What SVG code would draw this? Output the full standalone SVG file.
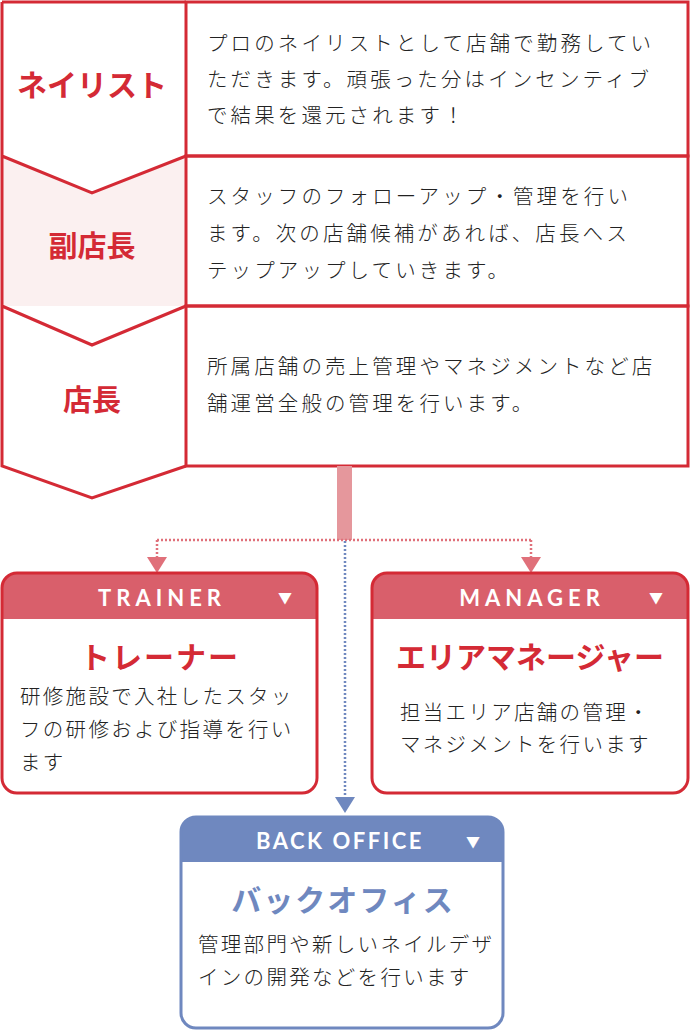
<svg xmlns="http://www.w3.org/2000/svg" width="690" height="1031" viewBox="0 0 690 1031">
<style>
.t{font-family:"Noto Sans CJK JP","Noto Sans",sans-serif}
.b{font-size:20.5px;fill:#222;font-weight:300;letter-spacing:2.3px}
.w{letter-spacing:3.1px}
.h{font-size:30px;font-weight:bold;fill:#d42a35;text-anchor:middle}
.hd{font-family:"Lato","Noto Sans",sans-serif;font-size:22px;font-weight:bold;fill:#fff;letter-spacing:5px;text-anchor:middle}
.tri{font-size:14px;fill:#fff;text-anchor:middle}
.st{fill:none;stroke:#d42a35;stroke-width:3}
</style>
<g id="row1">
<rect x="186" y="2" width="502" height="154" fill="#fff" class="st"/>
<text class="t h" x="92" y="96">ネイリスト</text>
<text class="t b w" x="207" y="51">プロのネイリストとして店舗で勤務してい</text>
<text class="t b w" x="207" y="87">ただきます。頑張った分はインセンティブ</text>
<text class="t b w" x="207" y="123">で結果を還元されます！</text>
</g>
<g id="row2">
<path d="M2,156 L92,193 L186,156 L186,306 L2,306 Z" fill="#fbf0f0"/>
<rect x="186" y="156" width="502" height="150" fill="#fbf0f0" class="st"/>
<text class="t h" x="92" y="257" style="font-size:29px">副店長</text>
<text class="t b w" x="207" y="204">スタッフのフォローアップ・管理を行い</text>
<text class="t b w" x="207" y="241">ます。次の店舗候補があれば、店長へス</text>
<text class="t b w" x="207" y="278">テップアップしていきます。</text>
</g>
<g id="row3">
<rect x="186" y="306" width="502" height="160" fill="#fff" class="st"/>
<text class="t h" x="92" y="411" style="font-size:29px">店長</text>
<text class="t b w" x="207" y="374">所属店舗の売上管理やマネジメントなど店</text>
<text class="t b w" x="207" y="411">舗運営全般の管理を行います。</text>
</g>
<path class="st" d="M2,2 L186,2 M2,2 L2,466 L92,498 L186,466 M2,156 L92,193 L186,156 M2,306 L92,345 L186,306"/>
<g id="connectors">
<rect x="337" y="466" width="15" height="74" fill="#e5979c"/>
<path d="M157,540 H531 M157,540 V560 M531,540 V560" fill="none" stroke="#e0707a" stroke-width="2.5" stroke-dasharray="2,2"/>
<path d="M147,557 L167,557 L157,573 Z M521,557 L541,557 L531,573 Z" fill="#e0707a"/>
<path d="M345,541 V798" fill="none" stroke="#6f88bf" stroke-width="2.5" stroke-dasharray="2,2"/>
<path d="M335,797 L355,797 L345,813 Z" fill="#6f88bf"/>
</g>
<g id="trainer">
<path d="M2,619 V588 Q2,573 17,573 H302 Q317,573 317,588 V619 Z" fill="#d95f6b"/>
<rect x="2" y="573" width="315" height="220" rx="15" fill="none" stroke="#d42a35" stroke-width="3"/>
<text class="hd" x="162" y="606">TRAINER</text>
<text class="t tri" x="285" y="603">▼</text>
<text class="t h" x="160" y="668" style="letter-spacing:2px">トレーナー</text>
<text class="t b" x="20" y="704">研修施設で入社したスタッ</text>
<text class="t b" x="20" y="737">フの研修および指導を行い</text>
<text class="t b" x="20" y="770">ます</text>
</g>
<g id="manager">
<path d="M372,619 V588 Q372,573 387,573 H673 Q688,573 688,588 V619 Z" fill="#d95f6b"/>
<rect x="372" y="573" width="316" height="220" rx="15" fill="none" stroke="#d42a35" stroke-width="3"/>
<text class="hd" x="532" y="606">MANAGER</text>
<text class="t tri" x="656" y="603">▼</text>
<text class="t h" x="530" y="668">エリアマネージャー</text>
<text class="t b" x="400" y="720">担当エリア店舗の管理・</text>
<text class="t b" x="400" y="752">マネジメントを行います</text>
</g>
<g id="backoffice">
<path d="M181,862 V832 Q181,817 196,817 H488 Q503,817 503,832 V862 Z" fill="#6f88bf"/>
<rect x="181" y="817" width="322" height="211" rx="15" fill="none" stroke="#6f88bf" stroke-width="3"/>
<text class="hd" x="340" y="849" style="letter-spacing:2.5px">BACK OFFICE</text>
<text class="t tri" x="473" y="847">▼</text>
<text class="t h" x="343" y="911" style="fill:#6f88bf;letter-spacing:2px">バックオフィス</text>
<text class="t b" x="198" y="952">管理部門や新しいネイルデザ</text>
<text class="t b" x="198" y="985">インの開発などを行います</text>
</g>
</svg>
